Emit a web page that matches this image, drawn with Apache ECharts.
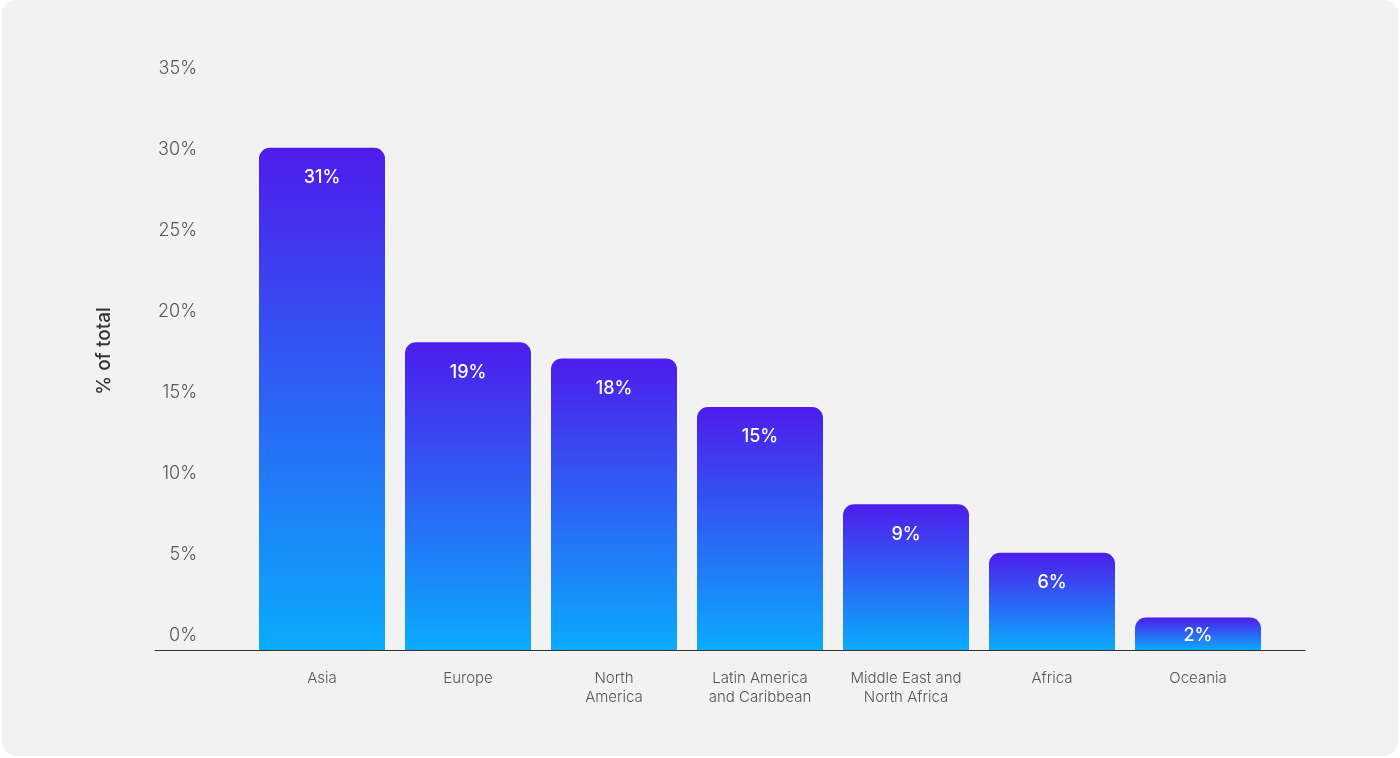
<!DOCTYPE html>
<html>
<head>
<meta charset="utf-8">
<script src="https://cdn.jsdelivr.net/npm/echarts@6/dist/echarts.min.js"></script>
<style>
  html, body { margin: 0; padding: 0; background: #ffffff; width: 1400px; height: 758px; overflow: hidden; }
  #card { position: absolute; left: 2px; top: 0; width: 1396px; height: 756px; background: #f2f2f2; border-radius: 14px; }
  #chart { position: absolute; left: 0; top: 0; width: 1400px; height: 758px; }
</style>
</head>
<body>
<div id="card"></div>
<div id="chart"></div>
<script>
// Share of total by region
const regions = ['Asia', 'Europe', 'North\nAmerica', 'Latin America\nand Caribbean', 'Middle East and\nNorth Africa', 'Africa', 'Oceania'];
const shares = [31, 19, 18, 15, 9, 6, 2];
const yTicks = [0, 5, 10, 15, 20, 25, 30, 35];

const FONT = "Inter, 'Liberation Sans', Arial, sans-serif";

const barGradient = new echarts.graphic.LinearGradient(0, 0, 0, 1, [
  { offset: 0, color: '#4e1cec' },
  { offset: 1, color: '#0aabfd' }
]);

// short bars get their value label tucked closer to the top edge
const barData = shares.map(v => ({
  value: v,
  label: v < 4 ? { distance: 9 } : undefined
}));

const chart = echarts.init(document.getElementById('chart'), null, { renderer: 'canvas' });
chart.setOption({
  animation: false,
  backgroundColor: 'transparent',
  grid: [
    { left: 249, right: 129, top: 83, bottom: 108 },
    { left: 155, right: 95, top: 83, bottom: 108 }
  ],
  xAxis: [
    {
      type: 'category',
      gridIndex: 0,
      data: regions,
      axisLine: { show: false },
      axisTick: { show: false },
      axisLabel: {
        margin: 19,
        color: '#555',
        fontFamily: FONT,
        fontSize: 15,
        fontWeight: 300,
        lineHeight: 19,
        interval: 0
      }
    },
    {
      type: 'value',
      gridIndex: 1,
      min: 0,
      max: 1,
      axisLine: { show: true, lineStyle: { color: '#333', width: 1.2 } },
      axisTick: { show: false },
      axisLabel: { show: false },
      splitLine: { show: false }
    }
  ],
  yAxis: [
    {
      type: 'value',
      gridIndex: 0,
      min: yTicks[0],
      max: yTicks[yTicks.length - 1],
      interval: yTicks[1] - yTicks[0],
      axisLine: { show: false },
      axisTick: { show: false },
      splitLine: { show: false },
      axisLabel: {
        formatter: '{value}%',
        margin: 52,
        align: 'right',
        verticalAlign: 'bottom',
        lineHeight: 28,
        color: '#555',
        fontFamily: FONT,
        fontSize: 18,
        fontWeight: 300
      }
    },
    {
      type: 'value',
      gridIndex: 1,
      min: 0,
      max: 1,
      show: false
    }
  ],
  graphic: [
    {
      type: 'text',
      x: 104,
      y: 351,
      rotation: Math.PI / 2,
      style: {
        text: '% of total',
        fill: '#333',
        font: '500 19px ' + FONT,
        align: 'center',
        verticalAlign: 'middle'
      }
    }
  ],
  series: [
    {
      type: 'bar',
      xAxisIndex: 0,
      yAxisIndex: 0,
      data: barData,
      barWidth: 126,
      itemStyle: {
        color: barGradient,
        borderRadius: [11, 11, 0, 0]
      },
      label: {
        show: true,
        position: 'insideTop',
        distance: 21,
        formatter: '{c}%',
        color: '#ffffff',
        fontFamily: FONT,
        fontSize: 18,
        fontWeight: 500
      }
    }
  ]
});
</script>
</body>
</html>
